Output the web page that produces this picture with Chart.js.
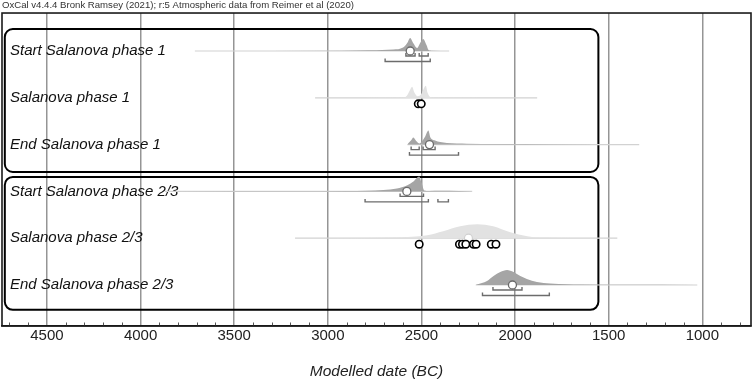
<!DOCTYPE html>
<html>
<head>
<meta charset="utf-8">
<script src="https://cdn.jsdelivr.net/npm/chart.js@4.4.1/dist/chart.umd.min.js"></script>
<style>
  html, body { margin: 0; padding: 0; background: #fff; }
  #wrap { width: 753px; height: 381px; }
</style>
</head>
<body>
<div id="wrap"><canvas id="oxcal" width="753" height="381"></canvas></div>
<script>
const rowLabels = ['Start Salanova phase 1', 'Salanova phase 1', 'End Salanova phase 1',
                   'Start Salanova phase 2/3', 'Salanova phase 2/3', 'End Salanova phase 2/3'];

// posterior densities as [year BC, relative density]
const startP1  = [[3710,0],[2930,0.3],[2770,0.8],[2650,1.5],[2598,3.5],[2576,8],[2560,13],[2544,8],[2523,3],[2507,8],[2491,12],[2473,6],[2462,1],[2440,0.3],[2352,0]];
const spanP1   = [[3068,0],[2600,0.2],[2578,2],[2563,7],[2550,11],[2537,5],[2520,1.5],[2500,4],[2488,9],[2477,12],[2467,5],[2455,1],[2440,0.3],[1882,0]];
const endP1    = [[2575,0],[2569,1.5],[2556,4],[2543,7],[2528,3.5],[2510,1],[2498,3],[2480,8],[2463,14],[2452,7],[2427,4],[2400,2.5],[2364,1.5],[2257,0.8],[2100,0.5],[1800,0.3],[1337,0]];
const startP23 = [[3870,0],[3200,0.2],[2900,0.4],[2792,0.7],[2703,1.5],[2631,3],[2578,6],[2543,10],[2512,15],[2498,8],[2485,1],[2460,0.5],[2400,0.6],[2300,0.4],[2229,0]];
const spanP23  = [[3175,0],[2800,0.2],[2651,0.6],[2550,1.5],[2469,3],[2384,7],[2293,12],[2202,14],[2117,12],[2026,6],[1935,2],[1866,0.6],[1700,0.2],[1454,0]];
const endP23   = [[2210,0],[2204,0.5],[2150,4],[2115,9],[2079,13],[2043,15],[2008,13],[1972,9],[1937,6],[1883,3],[1812,1.5],[1723,0.7],[1652,0.4],[1400,0.2],[1027,0]];
const densities = [startP1, spanP1, endP1, startP23, spanP23, endP23];
const unmodelled = [false, true, false, false, true, false];

// full extent of each distribution
const ranges = [[3710,2352],[3068,1882],[2575,1337],[3870,2229],[3175,1454],[2210,1027]];

// medians, 68.3% and 95.4% ranges
const medians = [2560, null, 2457, 2578, null, 2014];
const spanMedian = [null, null, null, null, 2249, null];
const sigma1 = [[[2583,2534],[2512,2464]], [], [[2555,2512],[2491,2427]], [[2614,2489]], [], [[2118,1963]]];
const sigma2 = [[[2694,2453]], [], [[2564,2302]], [[2801,2463],[2412,2356]], [], [[2174,1817]]];

// dates of the samples inside each phase
const samples = [[], [2517, 2501], [], [], [2512, 2297, 2281, 2263, 2222, 2208, 2127, 2102], []];

const phaseGroups = [[1, 3], [4, 6]];
const xTicks = [4500, 4000, 3500, 3000, 2500, 2000, 1500, 1000];

// style
const rowPx = 46.8;
const k = 1 / rowPx;
const drop1 = 5 * k, drop2 = 10.5 * k, lip = 3 * k, sampleDrop = 6 * k;
const boxPad = [[0.47, 0.585], [0.31, 0.53]];
const boxSpan = [4725, 1555];

Chart.defaults.font.family = "'Liberation Sans', Arial, sans-serif";
Chart.defaults.color = '#222';

const datasets = [];
densities.forEach((d, i) => {
  const row = i + 1;
  datasets.push({
    data: ranges[i].map(yr => ({ x: yr, y: row })),
    borderColor: '#d2d2d2', borderWidth: 1.2, pointRadius: 0, order: 5
  });
  datasets.push({
    data: d.map(([yr, h]) => ({ x: yr, y: row - h * k })),
    fill: { value: row },
    backgroundColor: unmodelled[i] ? '#e2e2e2' : '#a5a5a5',
    borderWidth: 0, pointRadius: 0, cubicInterpolationMode: 'monotone', order: 4
  });
  [[sigma1[i], drop1], [sigma2[i], drop2]].forEach(([list, drop]) => {
    list.forEach(([a, b]) => {
      const y = row + drop;
      datasets.push({
        data: [{ x: a, y: y - lip }, { x: a, y }, { x: b, y }, { x: b, y: y - lip }],
        borderColor: '#6c6c6c', borderWidth: 1.4, pointRadius: 0, order: 2
      });
    });
  });
});

datasets.push({
  data: medians.map((m, i) => m === null ? null : { x: m, y: i + 1 }).filter(Boolean),
  showLine: false, pointRadius: 4, pointBorderWidth: 1.3,
  pointBackgroundColor: '#fff', pointBorderColor: '#6a6a6a', order: 1
});
datasets.push({
  data: spanMedian.map((m, i) => m === null ? null : { x: m, y: i + 1 }).filter(Boolean),
  showLine: false, pointRadius: 4, pointBorderWidth: 1.2,
  pointBackgroundColor: '#fff', pointBorderColor: '#d0d0d0', order: 3
});
datasets.push({
  data: samples.flatMap((list, i) => list.map(yr => ({ x: yr, y: i + 1 + sampleDrop }))),
  showLine: false, pointRadius: 3.7, pointBorderWidth: 1.6,
  pointBackgroundColor: '#fff', pointBorderColor: '#000', order: 0
});

const oxcalFrame = {
  id: 'oxcalFrame',
  beforeDatasetsDraw(chart) {
    const { ctx, scales: { x, y } } = chart;
    ctx.save();
    ctx.strokeStyle = '#000';
    ctx.lineWidth = 2;
    phaseGroups.forEach(([a, b], i) => {
      const left = x.getPixelForValue(boxSpan[0]);
      const right = x.getPixelForValue(boxSpan[1]);
      const top = y.getPixelForValue(a - boxPad[i][0]);
      const bottom = y.getPixelForValue(b + boxPad[i][1]);
      ctx.beginPath();
      ctx.roundRect(left, top, right - left, bottom - top, 8);
      ctx.stroke();
    });
    ctx.restore();
  },
  afterDraw(chart) {
    const { ctx, chartArea: a, scales: { x } } = chart;
    ctx.save();
    // minor ticks every century
    ctx.strokeStyle = '#555';
    ctx.lineWidth = 1;
    for (let v = 800; v <= 4700; v += 100) {
      if (v % 500 === 0) continue;
      const px = Math.round(x.getPixelForValue(v)) + 0.5;
      ctx.beginPath();
      ctx.moveTo(px, a.bottom - 3.5);
      ctx.lineTo(px, a.bottom);
      ctx.stroke();
    }
    ctx.strokeStyle = '#1a1a1a';
    ctx.lineWidth = 1.6;
    ctx.strokeRect(a.left, a.top, a.right - a.left, a.bottom - a.top);
    ctx.restore();
  }
};

new Chart('oxcal', {
  type: 'line',
  data: { datasets },
  plugins: [oxcalFrame],
  options: {
    responsive: false,
    animation: false,
    events: [],
    layout: { autoPadding: false, padding: { left: 2, right: 2, top: 0, bottom: 0 } },
    plugins: {
      legend: { display: false },
      tooltip: { enabled: false },
      title: {
        display: true,
        text: 'OxCal v4.4.4 Bronk Ramsey (2021); r:5 Atmospheric data from Reimer et al (2020)',
        align: 'start',
        color: '#333',
        font: { size: 9.6, weight: 'normal' },
        padding: { top: 0, bottom: 1.5 }
      }
    },
    scales: {
      x: {
        type: 'linear',
        min: 740,
        max: 4740,
        reverse: true,
        afterBuildTicks: s => { s.ticks = xTicks.map(v => ({ value: v })); },
        afterFit: s => { s.height = 55; s.paddingLeft = 0; s.paddingRight = 0; },
        ticks: {
          autoSkip: false,
          maxRotation: 0,
          padding: 1,
          font: { size: 15 },
          color: '#222',
          callback: v => String(v)
        },
        grid: {
          drawTicks: false,
          color: '#959595',
          lineWidth: 1.5
        },
        border: { display: true, color: '#1a1a1a', width: 1.6 },
        title: {
          display: true,
          text: 'Modelled date (BC)',
          font: { size: 15.5, style: 'italic' },
          color: '#222',
          padding: { top: 0, bottom: 0 }
        }
      },
      y: {
        type: 'linear',
        min: 0.188,
        max: 6.876,
        reverse: true,
        afterBuildTicks: s => { s.ticks = rowLabels.map((_, i) => ({ value: i + 1 })); },
        afterFit: s => { s.width = 0; s.paddingTop = 0; s.paddingBottom = 0; },
        grid: { display: false, drawTicks: false },
        border: { display: false },
        ticks: {
          mirror: true,
          padding: 8,
          autoSkip: false,
          font: { size: 15, style: 'italic' },
          color: '#111',
          callback: v => rowLabels[v - 1]
        }
      }
    }
  }
});
</script>
</body>
</html>
